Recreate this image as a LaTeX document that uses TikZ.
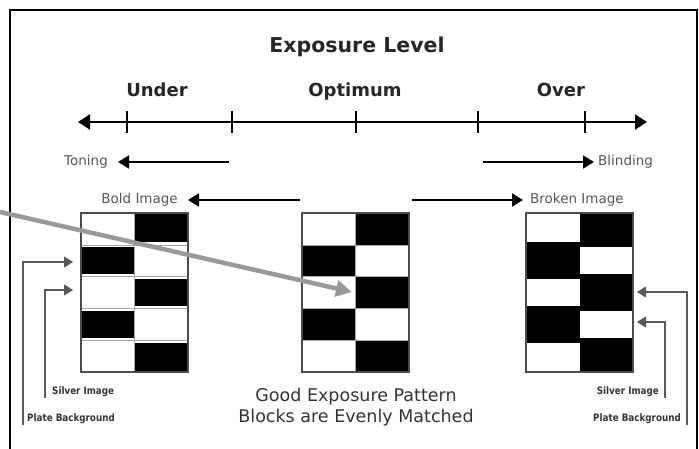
\documentclass[tikz,border=0pt]{standalone}
\usepackage{fontspec}
\setmainfont{DejaVu Sans}
\newfontfamily\narrowfont[FakeStretch=0.86]{DejaVu Sans}
\usetikzlibrary{arrows.meta,positioning}

\definecolor{labelgray}{HTML}{555555}
\definecolor{notegray}{HTML}{5A5A5A}
\definecolor{pointergray}{HTML}{999999}

\tikzset{
  heading/.style={inner sep=0pt, anchor=base, font=\fontsize{20.5}{22}\bfseries\selectfont, text=black!85},
  levelname/.style={inner sep=0pt, anchor=base, font=\fontsize{18}{20}\bfseries\selectfont, text=black!85},
  effect/.style={inner sep=0pt, font=\fontsize{13.5}{15}\selectfont, text=labelgray},
  tiny/.style={inner sep=0pt, font=\narrowfont\fontsize{10.2}{11}\bfseries\selectfont, text=black!80},
  caption/.style={inner sep=0pt, align=center, font=\fontsize{17.5}{20.5}\selectfont, text=black!80},
  axisline/.style={line width=2pt, {Triangle[length=12pt,width=15pt]}-{Triangle[length=12pt,width=15pt]}},
  tick/.style={line width=1.5pt},
  effectline/.style={line width=1.8pt, -{Triangle[length=11pt,width=13pt]}},
  noteline/.style={line width=1.2pt, draw=notegray, -{Triangle[length=9pt,width=11pt]}},
  cellgrid/.style={line width=0.5pt, draw=black!35},
  blockframe/.style={draw=black!70, line width=1.2pt, minimum width=107pt, minimum height=159pt, inner sep=0pt},
}

\begin{document}
\begin{tikzpicture}[x=1pt, y=-1pt]
  \useasboundingbox (0,0) rectangle (699,449);

  % frame
  \coordinate (frBL) at (10,449);
  \coordinate (frTL) at (10,10);
  \coordinate (frTR) at (697,10);
  \coordinate (frBR) at (697,449);
  \draw[line width=1.2pt] (frBL) -- (frTL) -- (frTR) -- (frBR);

  % title and levels
  \node[heading] (ttl) at (357,53) {Exposure Level};
  \node[levelname] (under) at (157,97) {Under};
  \node[levelname] (optimum) at (355,97) {Optimum};
  \node[levelname] (over) at (561,97) {Over};

  % exposure axis
  \coordinate (axL) at (78,122);
  \coordinate (axR) at (647,122);
  \draw[axisline] (axL) -- (axR);
  \foreach \tx in {127,232,356,478,585}
    \draw[tick] (\tx,111) -- (\tx,133);

  % effects
  \coordinate (tonS) at (229,162);
  \coordinate (tonT) at (118,162);
  \draw[effectline] (tonS) -- (tonT);
  \node[effect, left=10pt of tonT] (toning) {Toning};

  \coordinate (blnS) at (483,162);
  \coordinate (blnT) at (594,162);
  \draw[effectline] (blnS) -- (blnT);
  \node[effect, right=4pt of blnT] (blinding) {Blinding};

  \coordinate (bldS) at (300,200);
  \coordinate (bldT) at (188,200);
  \draw[effectline] (bldS) -- (bldT);
  \node[effect, left=10pt of bldT] (bold) {Bold Image};

  \coordinate (brkS) at (412,200);
  \coordinate (brkT) at (523,200);
  \draw[effectline] (brkS) -- (brkT);
  \node[effect, right=7pt of brkT] (broken) {Broken Image};

  % left block (bold image)
  \foreach \r in {0,...,4}{
    \pgfmathsetmacro{\cx}{mod(\r,2)==0 ? 134.5 : 81}
    \pgfmathsetmacro{\ya}{213+\r*31.8+(\r>0 ? 2.5 : 0)}
    \pgfmathsetmacro{\yb}{213+(\r+1)*31.8-(\r<4 ? 2.5 : 0)}
    \fill (\cx,\ya) rectangle ({\cx+53.5},\yb);
  }
  \foreach \r in {1,...,4}
    \draw[cellgrid] (81,{213+\r*31.8}) -- (188,{213+\r*31.8});
  \draw[cellgrid] (134.5,213) -- (134.5,372);
  \node[blockframe] (blkL) at (134.5,292.5) {};

  % middle block (good exposure)
  \foreach \r in {0,...,4}{
    \pgfmathsetmacro{\cx}{mod(\r,2)==0 ? 355.5 : 302}
    \fill (\cx,{213+\r*31.8}) rectangle ++(53.5,31.8);
  }
  \foreach \r in {1,...,4}
    \draw[cellgrid] (302,{213+\r*31.8}) -- (409,{213+\r*31.8});
  \draw[cellgrid] (355.5,213) -- (355.5,372);
  \node[blockframe] (blkM) at (355.5,292.5) {};

  % right block (broken image)
  \fill (526,213) rectangle (633,372);
  \foreach \r in {0,...,4}{
    \pgfmathsetmacro{\cx}{mod(\r,2)==0 ? 526 : 579.5}
    \pgfmathsetmacro{\ya}{213+\r*31.8+(\r>0 ? 2.5 : 0)}
    \pgfmathsetmacro{\yb}{213+(\r+1)*31.8-(\r<4 ? 2.5 : 0)}
    \fill[white] (\cx,\ya) rectangle ({\cx+53.5},\yb);
  }
  \node[blockframe] (blkR) at (579.5,292.5) {};

  % left notes
  \coordinate (pbLb) at (23,425);
  \coordinate (pbLt) at (73,262);
  \coordinate (siLb) at (45,398);
  \coordinate (siLt) at (73,290);
  \draw[noteline] (pbLb) |- (pbLt);
  \draw[noteline] (siLb) |- (siLt);
  \node[tiny, anchor=west] (siL) at (52,392) {Silver Image};
  \node[tiny, anchor=west] (pbL) at (27,419) {Plate Background};

  % right notes
  \coordinate (pbRb) at (687,425);
  \coordinate (pbRt) at (637,292);
  \coordinate (siRb) at (665,398);
  \coordinate (siRt) at (637,322);
  \draw[noteline] (pbRb) |- (pbRt);
  \draw[noteline] (siRb) |- (siRt);
  \node[tiny, anchor=east] (siR) at (659,392) {Silver Image};
  \node[tiny, anchor=east] (pbR) at (681,419) {Plate Background};

  % caption
  \node[caption] (cap) at (356,407) {Good Exposure Pattern\\Blocks are Evenly Matched};

  % pointer from outside
  \coordinate (ptrS) at (0,212);
  \coordinate (ptrT) at (352,292);
  \draw[line width=4.5pt, draw=pointergray, -{Triangle[length=16pt,width=16pt,fill=pointergray]}] (ptrS) -- (ptrT);
\end{tikzpicture}
\end{document}
